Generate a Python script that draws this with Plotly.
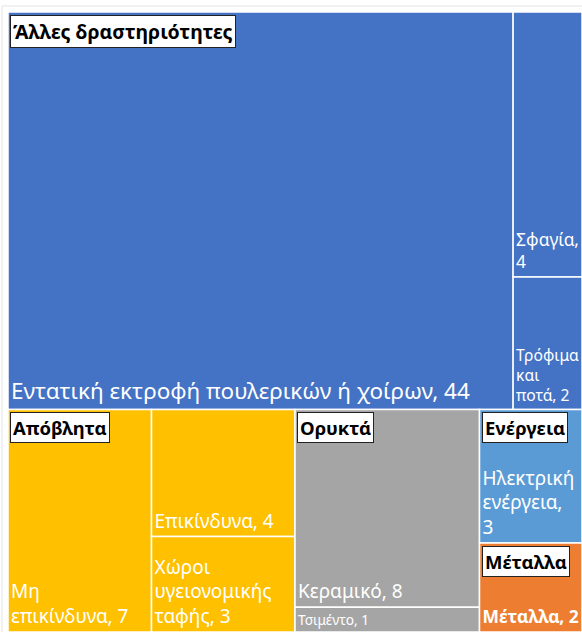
import plotly.graph_objects as go

# ---- data ----
sectors = ["Άλλες δραστηριότητες", "Απόβλητα", "Ορυκτά", "Ενέργεια", "Μέταλλα"]
sector_colors = ["#4472C4", "#FFC000", "#A5A5A5", "#5B9BD5", "#ED7D31"]

activities = ["Εντατική εκτροφή πουλερικών ή χοίρων", "Σφαγία", "Τρόφιμα και ποτά",
              "Μη επικίνδυνα", "Επικίνδυνα", "Χώροι υγειονομικής ταφής",
              "Κεραμικό", "Τσιμέντο", "Ηλεκτρική ενέργεια", "Μέταλλα"]
activity_sector = ["Άλλες δραστηριότητες", "Άλλες δραστηριότητες", "Άλλες δραστηριότητες",
                   "Απόβλητα", "Απόβλητα", "Απόβλητα",
                   "Ορυκτά", "Ορυκτά", "Ενέργεια", "Μέταλλα"]
activity_values = [44, 4, 2, 7, 4, 3, 8, 1, 3, 2]
# how each label is wrapped inside its tile
activity_wrapped = ["Εντατική εκτροφή πουλερικών ή χοίρων, {v}", "Σφαγία,<br>{v}",
                    "Τρόφιμα<br>και<br>ποτά, {v}", "Μη<br>επικίνδυνα, {v}", "Επικίνδυνα, {v}",
                    "Χώροι<br>υγειονομικής<br>ταφής, {v}", "Κεραμικό, {v}", "Τσιμέντο, {v}",
                    "Ηλεκτρική<br>ενέργεια,<br>{v}", "<b>Μέταλλα, {v}</b>"]

FONT = "Noto Sans"

sector_values = [sum(v for v, s in zip(activity_values, activity_sector) if s == sec) for sec in sectors]
color_of = dict(zip(sectors, sector_colors))

ids = ["S:" + s for s in sectors] + ["A:" + a for a in activities]
labels = sectors + activities
parents = [""] * len(sectors) + ["S:" + s for s in activity_sector]
values = sector_values + activity_values
colors = sector_colors + [color_of[s] for s in activity_sector]
texts = [""] * len(sectors) + [w.format(v=v) for w, v in zip(activity_wrapped, activity_values)]
sizes = [19] * len(sectors) + [22.5 if v == max(activity_values) else 19 for v in activity_values]

fig = go.Figure(go.Treemap(
    ids=ids, labels=labels, parents=parents, values=values,
    branchvalues="total", sort=True,
    text=texts, texttemplate="%{text}", textposition="bottom left",
    textfont=dict(family=FONT, color="white", size=sizes),
    marker=dict(colors=colors, line=dict(color="white", width=1.5),
                pad=dict(t=0, l=0, r=0, b=0), depthfade=False),
    tiling=dict(packing="squarify", pad=0),
    pathbar=dict(visible=False),
    hoverinfo="skip",
))

# sector header boxes, positioned from the data (tile fractions)
total = sum(sector_values)
top_frac = sector_values[0] / total
rest = sum(sector_values[1:])
bottom_h = 1 - top_frac
x_min = sector_values[1] / rest
x_en = (sector_values[1] + sector_values[2]) / rest
y_met = bottom_h * sector_values[4] / (sector_values[3] + sector_values[4])
header_pos = [(0, 1), (0, bottom_h), (x_min, bottom_h), (x_en, bottom_h), (x_en, y_met)]
for name, (hx, hy) in zip(sectors, header_pos):
    fig.add_annotation(
        x=hx, y=hy, xref="paper", yref="paper", xanchor="left", yanchor="top",
        text="<b>" + name + "</b>", showarrow=False,
        font=dict(family=FONT, size=19.5 if name == sectors[0] else 18.5, color="black"),
        bgcolor="white", bordercolor="#222222", borderwidth=1, borderpad=2,
        xshift=2, yshift=-3,
    )

W, H, ML, MT = 582, 632, 8, 12
# faint chart-area border, as in the source chart
fig.add_shape(type="rect", xref="paper", yref="paper",
              x0=-(ML - 2) / (W - ML), x1=1.05, y0=-0.05, y1=1 + (MT - 6) / (H - MT),
              line=dict(color="#E3E3E3", width=1), fillcolor="rgba(0,0,0,0)", layer="below")

fig.update_layout(
    width=W, height=H,
    margin=dict(l=ML, r=0, t=MT, b=0),
    paper_bgcolor="white",
)
fig.write_html("out.html", config={"displayModeBar": False},
               post_script="document.body.style.margin='0';document.body.style.overflow='hidden';")
